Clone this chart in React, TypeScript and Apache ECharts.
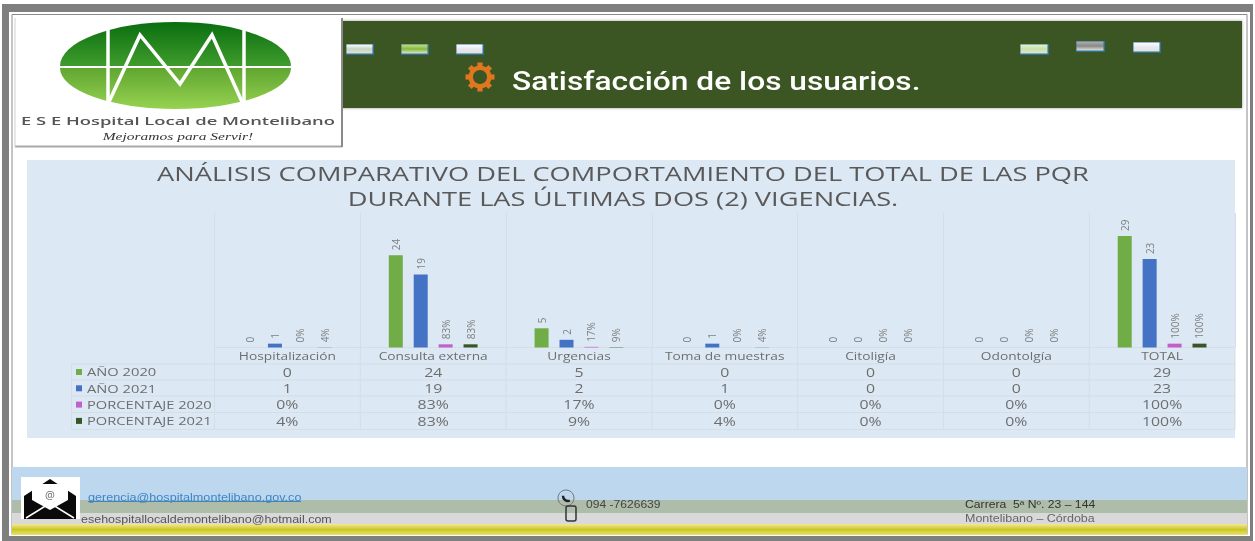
import React, { useEffect, useRef } from "react";
import * as echarts from "echarts";

const categories = ["Hospitalización", "Consulta externa", "Urgencias", "Toma de muestras", "Citoligía", "Odontolgía", "TOTAL"];
const ano2020 = [0, 24, 5, 0, 0, 0, 29];
const ano2021 = [1, 19, 2, 1, 0, 0, 23];
const pct2020 = [0, 0.83, 0.17, 0, 0, 0, 1];
const pct2021 = [0.04, 0.83, 0.09, 0.04, 0, 0, 1];
const seriesNames = ["AÑO 2020", "AÑO 2021", "PORCENTAJE 2020", "PORCENTAJE 2021"];
const seriesColors = ["#70ad47", "#4472c4", "#c060c8", "#375623"];
const seriesValues = [ano2020, ano2021, pct2020, pct2021];
const isPct = [false, false, true, true];
const titleLines = ["ANÁLISIS COMPARATIVO DEL COMPORTAMIENTO DEL TOTAL DE LAS PQR", "DURANTE LAS ÚLTIMAS DOS (2) VIGENCIAS."];

const GL = 214.5, GR = 1235, GB = 347.5, GT = 213;
const rowLines = [364, 380, 396, 412.5, 429.5];
const FONT = "'Open Sans'";
const SANS = "'Liberation Sans'";

echarts.graphic.registerShape("logoTop", echarts.graphic.extendPath("M60 66 A115.5 44 0 0 1 291 66 Z", {}) as any);
echarts.graphic.registerShape("logoBottom", echarts.graphic.extendPath("M60 68 A115.5 41 0 0 0 291 68 Z", {}) as any);

const fmt = (v: number, pct: boolean) => (pct ? `${Math.round(v * 100)}%` : `${v}`);
const lg = (a: string, b: string, c?: string) =>
  new echarts.graphic.LinearGradient(0, 0, 0, 1, c
    ? [{ offset: 0, color: a }, { offset: 0.5, color: b }, { offset: 1, color: c }]
    : [{ offset: 0, color: a }, { offset: 1, color: b }]);

const rect = (x: number, y: number, w: number, h: number, fill: any, z = 0, extra: any = {}) => ({
  type: "rect", z, shape: { x, y, width: w, height: h }, style: { fill, ...extra },
});
const line = (x1: number, y1: number, x2: number, y2: number, stroke = "#d5dde5", lineWidth = 1, z = 1) => ({
  type: "line", z, shape: { x1, y1, x2, y2 }, style: { stroke, lineWidth },
});
const text = (x: number, y: number, t: string, size: number, fill: string, align = "left", scaleX = 1, fontFamily = FONT, extra: any = {}) => ({
  type: "text", z: 6, x, y, scaleX,
  style: { x: 0, y: 0, text: t, fontSize: size, fill, fontFamily, align, verticalAlign: "middle", ...extra },
});
const button = (x: number, y: number, w: number, h: number, top: string, mid: string) => ({
  type: "group", children: [
    rect(x, y, w, h, "#2f6f9a", 3),
    rect(x + 0.5, y + 0.5, w - 2, h - 2, lg(top, mid, "#dfe6d8"), 4),
  ],
});

function buildGraphics() {
  const els: any[] = [];
  // page frame
  els.push(rect(2, 4, 1251, 537, "#7f7f7f", 0));
  els.push(rect(9, 12, 1241, 524, "#ffffff", 0));
  els.push({ type: "rect", z: 0, shape: { x: 12, y: 14.5, width: 1235, height: 520 }, style: { fill: "#fff", stroke: "#8a8a8a", lineWidth: 1 } });
  // header band
  els.push(rect(340, 21, 902, 87, "#3a5723", 1, { shadowBlur: 3, shadowColor: "rgba(0,0,0,0.4)" }));
  // logo
  els.push(rect(15, 18, 327, 129, "#ffffff", 2));
  els.push(line(15, 146.5, 342, 146.5, "#a8a8a8", 2, 3), line(342, 18, 342, 147, "#8a8a8a", 2, 3), line(15, 18, 15, 147, "#d0d0d0", 1, 3));
  els.push({ type: "logoTop", z: 3, style: { fill: lg("#0a6e10", "#3f9c2c") } });
  els.push({ type: "logoBottom", z: 3, style: { fill: lg("#5fa631", "#97d250") } });
  els.push(line(108, 30, 108, 102, "#fff", 3.5, 4), line(244, 30, 244, 102, "#fff", 3.5, 4));
  els.push({ type: "polyline", z: 4, shape: { points: [[108, 104], [140, 35], [180, 84], [212, 35], [243, 104]] }, style: { stroke: "#fff", lineWidth: 3.5, fill: "none" } });
  els.push(text(178, 121, "E S E Hospital Local de Montelibano", 11.5, "#555", "center", 1.6, FONT, { fontWeight: 600 }));
  els.push(text(178, 137, "Mejoramos para Servir!", 10, "#333", "center", 1.55, "'Liberation Serif'", { fontStyle: "italic" }));
  // buttons
  els.push(button(346, 44, 28, 11, "#ffffff", "#c9d4c0"));
  els.push(button(401, 44, 28, 11, "#c6e08a", "#86bb36"));
  els.push(button(456, 44, 28, 11, "#ffffff", "#e6e6f0"));
  els.push(button(1020, 44, 29, 11, "#e6f2cf", "#c8e0a8"));
  els.push(button(1076, 41, 29, 11, "#b0b0b0", "#888888"));
  els.push(button(1133, 42, 28, 11, "#ffffff", "#e8e8f0"));
  // gear
  const teeth = Array.from({ length: 8 }, (_, k) => ({
    type: "rect", z: 5, rotation: (k * Math.PI) / 4,
    shape: { x: -2.6, y: -14.5, width: 5.2, height: 6 }, style: { fill: "#e0761f" },
  }));
  els.push({ type: "group", x: 480, y: 77, children: [
    ...teeth,
    { type: "ring", z: 5, shape: { cx: 0, cy: 0, r: 11.5, r0: 7 }, style: { fill: "#e0761f" } },
  ] });
  els.push(text(512, 81, "Satisfacción de los usuarios.", 26, "#ffffff", "left", 1.22, "Roboto", { fontWeight: 500 }));
  // chart panel
  els.push(rect(27, 160, 1208, 278, "#dce8f4", 0));
  titleLines.forEach((t, i) =>
    els.push(text(623, 173 + i * 24.5, t, 20.5, "#595959", "center", 1.33, FONT, { fontWeight: 500 })));
  // data table
  const catW = (GR - GL) / categories.length;
  rowLines.forEach((y) => els.push(line(71.5, y, GR, y)));
  els.push(line(71.5, 364, 71.5, 429.5));
  for (let i = 0; i <= categories.length; i++) els.push(line(GL + i * catW, GB, GL + i * catW, 429.5));
  categories.forEach((c, i) => els.push(text(GL + (i + 0.5) * catW, 356, c, 11, "#6e6e6e", "center", 1.25)));
  seriesNames.forEach((n, r) => {
    const y = 372 + r * 16.3;
    els.push(rect(76, y - 3, 6, 6, seriesColors[r], 5));
    els.push(text(87, y, n, 11.5, "#6e6e6e", "left", 1.28));
    seriesValues[r].forEach((v, i) =>
      els.push(text(GL + (i + 0.5) * catW, y, fmt(v, isPct[r]), 12, "#6e6e6e", "center", 1.32)));
  });
  // footer
  els.push(rect(12, 467, 1235, 33, "#bdd7ee", 1));
  els.push(rect(12, 500, 1235, 13, "#aebcaa", 1));
  els.push(rect(12, 513, 1235, 11, "#d9d9d9", 1));
  els.push(rect(12, 524, 1235, 11, lg("#f6e79a", "#c9c822", "#ece070"), 1));
  els.push(rect(21, 477, 59, 42, "#ffffff", 2));
  els.push({ type: "polygon", z: 3, shape: { points: [[24, 496], [50, 479], [76, 496], [76, 519], [24, 519]] }, style: { fill: "#0a0a0a" } });
  els.push({ type: "polygon", z: 4, shape: { points: [[32, 484], [68, 484], [68, 500], [50, 510], [32, 500]] }, style: { fill: "#ffffff" } });
  els.push(line(26, 518, 47, 505, "#fff", 1.5, 4), line(74, 518, 53, 505, "#fff", 1.5, 4));
  els.push(text(50, 494, "@", 11, "#666", "center"));
  els.push(text(88, 497, "gerencia@hospitalmontelibano.gov.co", 10.5, "#3c86c8", "left", 1.205, SANS));
  els.push(line(88, 501.5, 301, 501.5, "#3c86c8", 1, 6));
  els.push(text(81, 519, "esehospitallocaldemontelibano@hotmail.com", 10.5, "#555", "left", 1.19, SANS));
  els.push({ type: "circle", z: 3, shape: { cx: 566, cy: 498, r: 8 }, style: { fill: "none", stroke: "#777", lineWidth: 1 } });
  els.push({ type: "arc", z: 3, shape: { cx: 568, cy: 496, r: 5, startAngle: 1.2, endAngle: 3.2 }, style: { stroke: "#222", lineWidth: 2.5, fill: "none" } });
  els.push({ type: "rect", z: 3, shape: { x: 566, y: 506, width: 10, height: 15, r: 2 }, style: { fill: "none", stroke: "#333", lineWidth: 1.5 } });
  els.push(text(586, 504, "094 -7626639", 10, "#444", "left", 1.21, SANS));
  els.push(text(965, 504, "Carrera  5ª Nº. 23 – 144", 10, "#333", "left", 1.22, SANS));
  els.push(text(965, 518, "Montelibano – Córdoba", 10, "#666", "left", 1.25, SANS));
  return els;
}

export default function App() {
  const ref = useRef<HTMLDivElement>(null);
  useEffect(() => {
    const chart = echarts.init(ref.current!, undefined, { renderer: "svg" });
    chart.setOption({
      animation: false,
      backgroundColor: "#ffffff",
      grid: { left: GL, top: GT, width: GR - GL, height: GB - GT },
      xAxis: {
        type: "category", data: categories,
        axisLine: { lineStyle: { color: "#d5dde5" } },
        axisTick: { show: false }, axisLabel: { show: false },
        splitLine: { show: true, lineStyle: { color: "#d5dde5" } },
      },
      yAxis: { type: "value", min: 0, max: 35, show: false },
      graphic: { elements: buildGraphics() },
      series: seriesNames.map((name, s) => ({
        name, type: "bar", data: seriesValues[s], barWidth: 14, barGap: "78%", z: 4,
        itemStyle: { color: seriesColors[s] },
        label: {
          show: true, position: "top", rotate: 90, distance: 5, align: "left", verticalAlign: "middle",
          fontSize: 10, color: "#7f7f7f", fontFamily: FONT,
          formatter: (p: any) => fmt(p.value, isPct[s]),
        },
      })),
    });
    return () => chart.dispose();
  }, []);
  return <div ref={ref} style={{ position: "absolute", left: 0, top: 0, width: 1255, height: 541, filter: "blur(0.7px)" }} />;
}
